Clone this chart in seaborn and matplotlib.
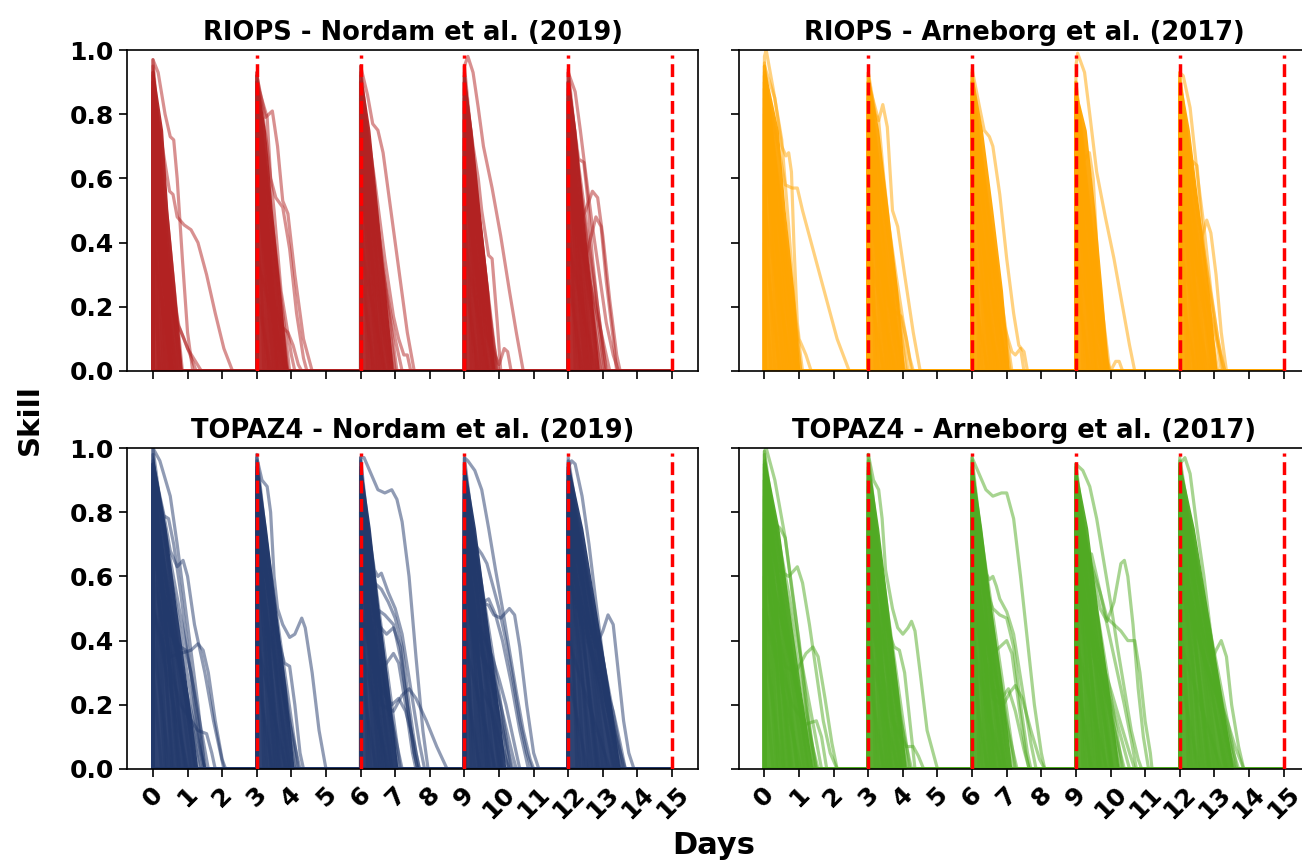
import numpy as np
import pandas as pd
import matplotlib
matplotlib.use("Agg")
import matplotlib.pyplot as plt
import seaborn as sns

# ---------------- data ----------------
DAY_TICKS = list(range(0, 16))
WINDOW_STARTS = [0, 3, 6, 9, 12]
RESTART_LINES = [3, 6, 9, 12, 15]
SKILL_TICKS = [0.0, 0.2, 0.4, 0.6, 0.8, 1.0]
PANEL_TITLES = ["RIOPS - Nordam et al. (2019)", "RIOPS - Arneborg et al. (2017)",
                "TOPAZ4 - Nordam et al. (2019)", "TOPAZ4 - Arneborg et al. (2017)"]
PANEL_COLORS = ["#B22222", "#FFA500", "#22396B", "#50AA23"]

# Saturated core where trajectories overlap: top skill at window start and
# days after the window start at which the core edge reaches skill 0, 0.25, 0.5, 0.75
CORE_LEVELS = [0.0, 0.25, 0.5, 0.75]
riops_nordam_core_top = [0.95, 0.92, 0.94, 0.93, 0.93]
riops_nordam_core_width = [[0.85, 0.65, 0.43, 0.28], [0.90, 0.68, 0.45, 0.25], [0.95, 0.72, 0.50, 0.27],
                           [0.87, 0.70, 0.45, 0.22], [0.90, 0.67, 0.43, 0.22]]
riops_arneborg_core_top = [0.95, 0.93, 0.93, 0.88, 0.92]
riops_arneborg_core_width = [[1.02, 0.85, 0.60, 0.40], [1.05, 0.85, 0.58, 0.30], [1.08, 0.88, 0.60, 0.30],
                             [0.95, 0.76, 0.55, 0.30], [1.08, 0.85, 0.56, 0.28]]
topaz_nordam_core_top = [0.98, 0.97, 0.96, 0.96, 0.96]
topaz_nordam_core_width = [[1.30, 1.00, 0.68, 0.38], [1.08, 0.85, 0.56, 0.28], [1.08, 0.82, 0.53, 0.28],
                           [1.20, 0.92, 0.62, 0.32], [1.50, 1.18, 0.80, 0.42]]
topaz_arneborg_core_top = [0.98, 0.97, 0.96, 0.94, 0.96]
topaz_arneborg_core_width = [[1.40, 1.05, 0.72, 0.42], [1.10, 0.86, 0.58, 0.30], [1.15, 0.88, 0.56, 0.28],
                             [1.25, 0.95, 0.63, 0.34], [1.55, 1.18, 0.80, 0.42]]

# Bundle of fast-decaying trajectories: initial skill and days until skill hits 0, per window
riops_nordam_peaks = [
    [0.97, 0.95, 0.93, 0.92, 0.90, 0.88, 0.85, 0.82, 0.78, 0.72, 0.65, 0.58, 0.50, 0.40, 0.30, 0.93, 0.90, 0.87],
    [0.93, 0.92, 0.90, 0.88, 0.85, 0.82, 0.80, 0.75, 0.70, 0.62, 0.55, 0.45, 0.35, 0.25, 0.90, 0.87, 0.80, 0.60],
    [0.95, 0.93, 0.92, 0.90, 0.88, 0.85, 0.82, 0.78, 0.72, 0.65, 0.58, 0.50, 0.40, 0.30, 0.90, 0.86, 0.80, 0.70],
    [0.95, 0.93, 0.92, 0.90, 0.88, 0.85, 0.82, 0.78, 0.72, 0.65, 0.58, 0.50, 0.40, 0.30, 0.90, 0.86, 0.80, 0.70],
    [0.94, 0.93, 0.90, 0.88, 0.86, 0.83, 0.80, 0.75, 0.70, 0.64, 0.58, 0.50, 0.40, 0.30, 0.90, 0.85, 0.78, 0.66],
]
riops_nordam_ends = [
    [0.70, 0.55, 0.45, 0.62, 0.35, 0.50, 0.78, 0.30, 0.60, 0.40, 0.82, 0.25, 0.70, 0.55, 0.20, 0.85, 0.15, 0.50],
    [0.80, 0.65, 0.55, 0.90, 0.45, 0.70, 0.35, 0.85, 0.60, 0.50, 0.75, 0.30, 0.90, 0.40, 0.20, 0.95, 0.60, 0.80],
    [0.90, 0.70, 0.55, 1.00, 0.45, 0.80, 0.35, 0.95, 0.60, 0.50, 0.85, 0.30, 0.70, 0.40, 0.20, 1.05, 0.65, 0.90],
    [0.85, 0.70, 0.55, 0.92, 0.45, 0.80, 0.35, 0.90, 0.60, 0.50, 0.85, 0.30, 0.70, 0.40, 0.20, 0.95, 0.65, 0.88],
    [0.90, 0.70, 0.55, 1.10, 0.45, 0.85, 0.35, 1.00, 0.60, 0.50, 1.20, 0.30, 0.80, 0.40, 0.20, 1.05, 0.65, 0.95],
]
# Slower trajectories traced individually: (days, skill)
riops_nordam_curves = [
    ([0, 0.15, 0.35, 0.5, 0.6, 0.7, 0.85, 1.0, 1.15], [0.97, 0.93, 0.80, 0.73, 0.72, 0.60, 0.35, 0.12, 0.0]),
    ([0, 0.3, 0.48, 0.58, 0.7, 0.9, 1.1, 1.3, 1.55, 1.8, 2.05, 2.3], [0.88, 0.68, 0.56, 0.55, 0.48, 0.455, 0.44, 0.40, 0.30, 0.18, 0.07, 0.0]),
    ([0, 0.4, 0.75, 1.0, 1.4], [0.80, 0.35, 0.14, 0.07, 0.0]),
    ([0, 0.5, 0.9, 1.25], [0.60, 0.20, 0.10, 0.0]),
    ([3, 3.25, 3.45, 3.6, 3.75, 3.9, 4.1, 4.35, 4.6], [0.92, 0.79, 0.81, 0.70, 0.53, 0.49, 0.30, 0.10, 0.0]),
    ([3, 3.3, 3.4, 3.55, 3.75, 3.95, 4.15, 4.35, 4.45], [0.90, 0.79, 0.60, 0.54, 0.51, 0.38, 0.18, 0.04, 0.0]),
    ([3, 3.4, 3.7, 3.9, 4.05, 4.2, 4.3], [0.60, 0.25, 0.14, 0.12, 0.08, 0.02, 0.0]),
    ([3, 3.3, 3.5, 3.7, 3.85, 4.0, 4.1], [0.93, 0.70, 0.50, 0.25, 0.15, 0.05, 0.0]),
    ([6, 6.2, 6.35, 6.5, 6.65, 6.9, 7.15, 7.35, 7.55], [0.95, 0.86, 0.77, 0.75, 0.68, 0.48, 0.28, 0.12, 0.0]),
    ([6, 6.4, 6.7, 6.95, 7.1, 7.25, 7.35, 7.45], [0.90, 0.60, 0.35, 0.17, 0.10, 0.05, 0.05, 0.0]),
    ([6, 6.5, 6.8, 7.0, 7.2], [0.85, 0.40, 0.22, 0.10, 0.0]),
    ([9, 9.1, 9.25, 9.4, 9.55, 9.8, 10.05, 10.3, 10.5, 10.7], [0.95, 0.98, 0.93, 0.82, 0.70, 0.57, 0.42, 0.25, 0.12, 0.0]),
    ([9, 9.25, 9.4, 9.5, 9.7, 9.8, 9.95, 10.05], [0.90, 0.70, 0.60, 0.50, 0.36, 0.35, 0.15, 0.0]),
    ([9, 9.6, 10.0, 10.15, 10.25, 10.35], [0.60, 0.12, 0.02, 0.07, 0.06, 0.0]),
    ([9, 9.3, 9.5, 9.7, 9.85, 10.0], [0.92, 0.60, 0.40, 0.20, 0.08, 0.0]),
    ([12, 12.2, 12.35, 12.5, 12.7, 12.9, 13.1, 13.3, 13.45], [0.93, 0.87, 0.75, 0.62, 0.45, 0.30, 0.15, 0.05, 0.0]),
    ([12, 12.3, 12.5, 12.7, 12.85, 13.0, 13.2, 13.4, 13.5], [0.70, 0.45, 0.50, 0.56, 0.54, 0.42, 0.22, 0.05, 0.0]),
    ([12, 12.3, 12.45, 12.55, 12.7, 12.85, 13.0, 13.1], [0.90, 0.66, 0.65, 0.55, 0.35, 0.20, 0.07, 0.0]),
    ([12, 12.5, 12.8, 12.95, 13.1, 13.3, 13.4], [0.60, 0.35, 0.48, 0.45, 0.28, 0.10, 0.0]),
]

riops_arneborg_peaks = [
    [0.96, 0.95, 0.93, 0.92, 0.90, 0.88, 0.85, 0.82, 0.78, 0.72, 0.65, 0.58, 0.50, 0.40, 0.30, 0.92, 0.88, 0.80],
    [0.93, 0.92, 0.90, 0.88, 0.86, 0.83, 0.80, 0.76, 0.70, 0.63, 0.55, 0.47, 0.38, 0.28, 0.90, 0.85, 0.78, 0.65],
    [0.93, 0.92, 0.90, 0.88, 0.86, 0.83, 0.80, 0.76, 0.70, 0.63, 0.55, 0.47, 0.38, 0.28, 0.90, 0.85, 0.78, 0.65],
    [0.90, 0.88, 0.87, 0.85, 0.83, 0.80, 0.77, 0.73, 0.68, 0.60, 0.52, 0.45, 0.38, 0.28, 0.86, 0.82, 0.75, 0.62],
    [0.93, 0.92, 0.90, 0.88, 0.86, 0.83, 0.80, 0.76, 0.70, 0.63, 0.55, 0.47, 0.38, 0.28, 0.90, 0.85, 0.78, 0.65],
]
riops_arneborg_ends = [
    [0.95, 0.75, 0.60, 1.05, 0.50, 0.85, 0.40, 1.00, 0.70, 0.55, 0.90, 0.30, 0.80, 0.45, 0.20, 1.10, 0.65, 0.95],
    [0.95, 0.75, 0.60, 1.10, 0.50, 0.85, 0.40, 1.00, 0.70, 0.55, 1.05, 0.30, 0.80, 0.45, 0.20, 1.15, 0.65, 0.90],
    [0.95, 0.75, 0.60, 1.10, 0.50, 0.85, 0.40, 1.00, 0.70, 0.55, 1.05, 0.30, 0.80, 0.45, 0.20, 1.15, 0.65, 0.90],
    [0.85, 0.70, 0.55, 0.98, 0.45, 0.80, 0.35, 0.90, 0.60, 0.50, 0.95, 0.30, 0.75, 0.40, 0.20, 0.95, 0.60, 0.85],
    [0.95, 0.75, 0.60, 1.20, 0.50, 0.90, 0.40, 1.10, 0.70, 0.55, 1.30, 0.30, 0.85, 0.45, 0.20, 1.25, 0.65, 1.00],
]
riops_arneborg_curves = [
    ([0, 0.05, 0.25, 0.5, 0.7, 0.9, 1.05], [0.98, 1.00, 0.88, 0.72, 0.45, 0.15, 0.0]),
    ([0, 0.4, 0.6, 0.8, 0.95, 1.1, 1.35, 1.6, 1.85, 2.1, 2.45], [0.90, 0.70, 0.58, 0.57, 0.57, 0.50, 0.40, 0.30, 0.20, 0.10, 0.0]),
    ([0, 0.3, 0.5, 0.62, 0.7, 0.78, 0.85, 0.95, 1.0, 1.2, 1.35], [0.95, 0.85, 0.70, 0.67, 0.68, 0.62, 0.40, 0.15, 0.10, 0.05, 0.0]),
    ([3, 3.2, 3.3, 3.42, 3.55, 3.7, 3.85, 4.05, 4.3, 4.5], [0.93, 0.80, 0.78, 0.83, 0.76, 0.50, 0.45, 0.30, 0.12, 0.0]),
    ([3, 3.3, 3.45, 3.6, 3.8, 4.0, 4.2, 4.3], [0.90, 0.78, 0.60, 0.45, 0.30, 0.16, 0.04, 0.0]),
    ([3, 3.6, 3.95, 4.1, 4.25], [0.50, 0.20, 0.17, 0.10, 0.0]),
    ([6, 6.2, 6.35, 6.5, 6.6, 6.8, 7.0, 7.2, 7.35, 7.5, 7.6], [0.94, 0.83, 0.75, 0.73, 0.70, 0.55, 0.35, 0.18, 0.08, 0.06, 0.0]),
    ([6, 6.5, 6.9, 7.15, 7.25, 7.4, 7.5], [0.80, 0.40, 0.15, 0.06, 0.05, 0.07, 0.0]),
    ([9, 9.05, 9.25, 9.4, 9.6, 9.85, 10.1, 10.35, 10.55, 10.7], [0.95, 0.99, 0.93, 0.80, 0.62, 0.48, 0.35, 0.20, 0.08, 0.0]),
    ([9, 9.25, 9.39, 9.5, 9.65, 9.8, 9.9], [0.90, 0.66, 0.68, 0.60, 0.30, 0.10, 0.0]),
    ([9, 9.6, 10.0, 10.15, 10.25, 10.35], [0.55, 0.12, 0.0, 0.03, 0.03, 0.0]),
    ([12, 12.1, 12.3, 12.5, 12.7, 12.9, 13.1, 13.3], [0.93, 0.92, 0.82, 0.62, 0.45, 0.25, 0.10, 0.0]),
    ([12, 12.5, 12.65, 12.78, 12.9, 13.05, 13.2, 13.35], [0.70, 0.30, 0.42, 0.47, 0.43, 0.30, 0.12, 0.0]),
    ([12, 12.3, 12.5, 12.6, 12.75, 12.9, 13.05], [0.88, 0.66, 0.64, 0.50, 0.30, 0.12, 0.0]),
]

topaz_nordam_peaks = [
    [1.00, 0.98, 0.96, 0.94, 0.92, 0.90, 0.87, 0.84, 0.80, 0.75, 0.68, 0.60, 0.50, 0.40, 0.30, 0.95, 0.90, 0.85, 0.78, 0.70],
    [0.98, 0.96, 0.94, 0.92, 0.90, 0.87, 0.84, 0.80, 0.75, 0.68, 0.60, 0.50, 0.40, 0.30, 0.93, 0.88, 0.80, 0.70],
    [0.97, 0.96, 0.94, 0.92, 0.90, 0.87, 0.84, 0.80, 0.75, 0.68, 0.60, 0.50, 0.40, 0.30, 0.93, 0.88, 0.80, 0.70],
    [0.97, 0.95, 0.93, 0.91, 0.89, 0.86, 0.83, 0.79, 0.74, 0.67, 0.60, 0.50, 0.40, 0.30, 0.92, 0.87, 0.80, 0.70],
    [0.97, 0.96, 0.94, 0.92, 0.90, 0.87, 0.84, 0.80, 0.75, 0.68, 0.60, 0.50, 0.40, 0.30, 0.93, 0.88, 0.82, 0.72, 0.95, 0.90],
]
topaz_nordam_ends = [
    [1.20, 0.90, 0.70, 1.45, 0.55, 1.10, 0.40, 1.35, 0.80, 0.60, 1.50, 0.35, 1.00, 0.50, 0.25, 1.60, 0.75, 1.25, 0.95, 1.40],
    [1.00, 0.80, 0.60, 1.20, 0.50, 0.90, 0.40, 1.10, 0.70, 0.55, 1.25, 0.30, 0.85, 0.45, 0.20, 1.15, 0.65, 0.95],
    [0.95, 0.75, 0.60, 1.15, 0.50, 0.85, 0.40, 1.05, 0.70, 0.55, 1.20, 0.30, 0.80, 0.45, 0.20, 1.10, 0.65, 0.90],
    [1.10, 0.85, 0.65, 1.35, 0.50, 1.00, 0.40, 1.25, 0.75, 0.60, 1.40, 0.30, 0.90, 0.45, 0.20, 1.30, 0.70, 1.05],
    [1.40, 1.10, 0.80, 1.60, 0.60, 1.30, 0.45, 1.50, 0.90, 0.70, 1.65, 0.35, 1.20, 0.55, 0.25, 1.55, 0.85, 1.35, 1.00, 1.45],
]
topaz_nordam_curves = [
    ([0, 0.2, 0.5, 0.7, 1.0, 1.3, 1.5], [1.00, 0.96, 0.85, 0.70, 0.45, 0.20, 0.0]),
    ([0, 0.3, 0.5, 0.7, 0.87, 1.0, 1.2, 1.5, 1.75, 2.05], [0.95, 0.80, 0.68, 0.63, 0.65, 0.60, 0.45, 0.30, 0.15, 0.0]),
    ([0, 0.3, 0.45, 0.6, 0.8, 1.0, 1.2, 1.4, 1.5], [0.95, 0.79, 0.78, 0.70, 0.55, 0.38, 0.20, 0.05, 0.0]),
    ([0, 0.5, 0.8, 1.1, 1.3, 1.45, 1.6, 1.8, 2.0, 2.1], [0.60, 0.35, 0.36, 0.37, 0.39, 0.37, 0.30, 0.15, 0.03, 0.0]),
    ([0, 0.5, 0.8, 0.95, 1.1, 1.3, 1.5], [0.80, 0.42, 0.38, 0.37, 0.30, 0.15, 0.0]),
    ([0, 0.8, 1.3, 1.55, 1.7, 1.8], [0.50, 0.20, 0.12, 0.11, 0.05, 0.0]),
    ([3, 3.15, 3.3, 3.4, 3.5, 3.6, 3.75, 3.95, 4.1, 4.3, 4.4, 4.6, 4.8, 5.0], [0.97, 0.90, 0.88, 0.80, 0.60, 0.50, 0.45, 0.41, 0.42, 0.47, 0.44, 0.30, 0.12, 0.0]),
    ([3, 3.5, 3.8, 3.95, 4.1, 4.25, 4.35], [0.80, 0.45, 0.33, 0.32, 0.20, 0.05, 0.0]),
    ([6, 6.1, 6.3, 6.5, 6.7, 6.9, 7.05, 7.2, 7.4, 7.6, 7.8, 7.95], [0.97, 0.97, 0.92, 0.87, 0.86, 0.87, 0.84, 0.77, 0.60, 0.35, 0.12, 0.0]),
    ([6, 6.4, 6.5, 6.6, 6.7, 6.8, 7.0, 7.2, 7.45, 7.7, 7.85], [0.90, 0.62, 0.60, 0.61, 0.58, 0.55, 0.50, 0.42, 0.25, 0.08, 0.0]),
    ([6, 6.4, 6.6, 6.8, 7.0, 7.2, 7.4, 7.6, 7.7], [0.85, 0.58, 0.56, 0.52, 0.47, 0.38, 0.20, 0.05, 0.0]),
    ([6, 6.45, 6.7, 6.95, 7.15, 7.35, 7.55, 7.65], [0.80, 0.50, 0.48, 0.45, 0.35, 0.20, 0.05, 0.0]),
    ([6, 6.5, 6.75, 6.95, 7.15, 7.35, 7.55, 7.65], [0.70, 0.45, 0.42, 0.44, 0.38, 0.20, 0.05, 0.0]),
    ([6, 6.5, 6.75, 6.95, 7.1, 7.3, 7.5, 7.6], [0.60, 0.30, 0.33, 0.36, 0.33, 0.20, 0.05, 0.0]),
    ([6, 6.6, 6.95, 7.2, 7.4, 7.6, 7.9, 8.2, 8.5], [0.50, 0.20, 0.18, 0.23, 0.25, 0.22, 0.15, 0.07, 0.0]),
    ([6, 6.6, 6.9, 7.1, 7.3, 7.55, 7.7], [0.50, 0.25, 0.20, 0.22, 0.18, 0.08, 0.0]),
    ([9, 9.1, 9.3, 9.5, 9.7, 9.9, 10.1, 10.3, 10.5, 10.7, 10.9, 11.0], [0.97, 0.96, 0.93, 0.87, 0.75, 0.62, 0.50, 0.37, 0.24, 0.12, 0.03, 0.0]),
    ([9, 9.3, 9.5, 9.65, 9.8, 10.0, 10.2, 10.4, 10.6, 10.8, 10.95], [0.90, 0.70, 0.67, 0.64, 0.58, 0.50, 0.40, 0.28, 0.15, 0.05, 0.0]),
    ([9, 9.3, 9.5, 9.7, 9.85, 10.05, 10.3, 10.45, 10.6, 10.8, 11.0, 11.15], [0.85, 0.60, 0.52, 0.51, 0.48, 0.47, 0.50, 0.48, 0.38, 0.20, 0.05, 0.0]),
    ([9, 9.4, 9.55, 9.7, 9.9, 10.1, 10.35, 10.6, 10.85], [0.88, 0.60, 0.52, 0.53, 0.48, 0.40, 0.27, 0.12, 0.0]),
    ([9, 9.4, 9.6, 9.8, 10.0, 10.2, 10.4, 10.6], [0.80, 0.45, 0.40, 0.35, 0.28, 0.20, 0.10, 0.0]),
    ([9, 9.4, 9.6, 9.8, 10.0, 10.2, 10.4, 10.5], [0.70, 0.38, 0.33, 0.30, 0.22, 0.13, 0.04, 0.0]),
    ([9, 9.5, 9.8, 10.0, 10.2, 10.3], [0.60, 0.25, 0.18, 0.10, 0.03, 0.0]),
    ([12, 12.1, 12.2, 12.4, 12.6, 12.8, 13.0, 13.2, 13.4, 13.55], [0.94, 0.96, 0.95, 0.85, 0.70, 0.52, 0.35, 0.20, 0.08, 0.0]),
    ([12, 12.5, 12.8, 13.0, 13.15, 13.3, 13.45, 13.6, 13.75, 13.9], [0.80, 0.50, 0.38, 0.43, 0.48, 0.45, 0.30, 0.15, 0.05, 0.0]),
    ([12, 12.6, 12.9, 13.1, 13.3, 13.5, 13.65], [0.70, 0.40, 0.30, 0.25, 0.18, 0.08, 0.0]),
]

topaz_arneborg_peaks = [
    [0.99, 0.98, 0.96, 0.94, 0.92, 0.90, 0.87, 0.84, 0.80, 0.75, 0.68, 0.60, 0.50, 0.40, 0.30, 0.95, 0.90, 0.85, 0.78, 0.70],
    [0.98, 0.96, 0.94, 0.92, 0.90, 0.87, 0.84, 0.80, 0.75, 0.68, 0.60, 0.50, 0.40, 0.30, 0.93, 0.88, 0.80, 0.70],
    [0.97, 0.96, 0.94, 0.92, 0.90, 0.87, 0.84, 0.80, 0.75, 0.68, 0.60, 0.50, 0.40, 0.30, 0.93, 0.88, 0.80, 0.70],
    [0.95, 0.94, 0.92, 0.90, 0.88, 0.85, 0.82, 0.78, 0.73, 0.67, 0.60, 0.50, 0.40, 0.30, 0.91, 0.86, 0.80, 0.70],
    [0.97, 0.96, 0.94, 0.92, 0.90, 0.87, 0.84, 0.80, 0.75, 0.68, 0.60, 0.50, 0.40, 0.30, 0.93, 0.88, 0.82, 0.72, 0.95, 0.90],
]
topaz_arneborg_ends = [
    [1.25, 0.95, 0.70, 1.50, 0.55, 1.15, 0.40, 1.40, 0.80, 0.60, 1.55, 0.35, 1.05, 0.50, 0.25, 1.65, 0.75, 1.30, 0.95, 1.45],
    [1.00, 0.80, 0.60, 1.20, 0.50, 0.90, 0.40, 1.10, 0.70, 0.55, 1.25, 0.30, 0.85, 0.45, 0.20, 1.15, 0.65, 0.95],
    [1.00, 0.80, 0.60, 1.25, 0.50, 0.90, 0.40, 1.10, 0.70, 0.55, 1.30, 0.30, 0.85, 0.45, 0.20, 1.20, 0.65, 0.95],
    [1.05, 0.85, 0.65, 1.35, 0.50, 1.00, 0.40, 1.25, 0.75, 0.60, 1.40, 0.30, 0.90, 0.45, 0.20, 1.30, 0.70, 1.05],
    [1.40, 1.10, 0.80, 1.65, 0.60, 1.30, 0.45, 1.55, 0.90, 0.70, 1.70, 0.35, 1.20, 0.55, 0.25, 1.60, 0.85, 1.35, 1.00, 1.50],
]
topaz_arneborg_curves = [
    ([0, 0.05, 0.3, 0.6, 0.9, 1.2, 1.45], [0.99, 1.00, 0.90, 0.72, 0.48, 0.20, 0.0]),
    ([0, 0.25, 0.45, 0.6, 0.8, 1.0, 1.2, 1.4, 1.5], [0.95, 0.77, 0.75, 0.72, 0.55, 0.40, 0.22, 0.06, 0.0]),
    ([0, 0.4, 0.7, 0.95, 1.1, 1.3, 1.5, 1.7, 1.9, 2.1], [0.90, 0.62, 0.60, 0.63, 0.58, 0.45, 0.30, 0.15, 0.05, 0.0]),
    ([0, 0.6, 0.9, 1.2, 1.4, 1.55, 1.75, 1.95, 2.1], [0.60, 0.32, 0.30, 0.36, 0.38, 0.35, 0.22, 0.08, 0.0]),
    ([0, 0.8, 1.2, 1.5, 1.65, 1.8], [0.50, 0.20, 0.14, 0.15, 0.10, 0.0]),
    ([3, 3.15, 3.3, 3.4, 3.5, 3.7, 3.85, 4.0, 4.15, 4.25, 4.35, 4.5, 4.7, 5.0], [0.98, 0.90, 0.87, 0.78, 0.62, 0.50, 0.44, 0.42, 0.44, 0.46, 0.43, 0.30, 0.12, 0.0]),
    ([3, 3.5, 3.75, 3.9, 4.05, 4.2, 4.35], [0.80, 0.45, 0.38, 0.37, 0.30, 0.15, 0.0]),
    ([3, 3.7, 4.1, 4.3, 4.45, 4.6], [0.50, 0.15, 0.07, 0.07, 0.04, 0.0]),
    ([6, 6.2, 6.4, 6.6, 6.85, 7.0, 7.2, 7.4, 7.6, 7.8, 8.0, 8.1], [0.97, 0.92, 0.87, 0.85, 0.86, 0.86, 0.78, 0.60, 0.40, 0.20, 0.05, 0.0]),
    ([6, 6.4, 6.5, 6.6, 6.7, 6.8, 7.0, 7.2, 7.45, 7.7, 7.85], [0.90, 0.61, 0.59, 0.60, 0.57, 0.53, 0.49, 0.42, 0.25, 0.08, 0.0]),
    ([6, 6.4, 6.6, 6.8, 7.0, 7.2, 7.4, 7.6, 7.7], [0.85, 0.56, 0.50, 0.48, 0.47, 0.38, 0.20, 0.05, 0.0]),
    ([6, 6.5, 6.8, 7.0, 7.15, 7.35, 7.55, 7.65], [0.70, 0.35, 0.38, 0.40, 0.36, 0.20, 0.05, 0.0]),
    ([6, 6.6, 6.9, 7.1, 7.25, 7.45, 7.7, 7.95, 8.1], [0.55, 0.22, 0.20, 0.24, 0.26, 0.22, 0.12, 0.03, 0.0]),
    ([6, 6.6, 6.85, 7.05, 7.25, 7.5, 7.65], [0.50, 0.25, 0.22, 0.25, 0.18, 0.06, 0.0]),
    ([9, 9.2, 9.4, 9.6, 9.8, 10.0, 10.2, 10.4, 10.6, 10.8, 10.9], [0.95, 0.93, 0.88, 0.78, 0.65, 0.52, 0.38, 0.25, 0.12, 0.03, 0.0]),
    ([9, 9.3, 9.5, 9.7, 9.9, 10.1, 10.3, 10.4, 10.5, 10.65, 10.8, 10.95, 11.1], [0.88, 0.70, 0.60, 0.50, 0.46, 0.52, 0.64, 0.65, 0.60, 0.45, 0.25, 0.10, 0.0]),
    ([9, 9.3, 9.45, 9.6, 9.8, 10.0, 10.2, 10.4, 10.6, 10.75], [0.90, 0.66, 0.67, 0.60, 0.50, 0.40, 0.30, 0.20, 0.09, 0.0]),
    ([9, 9.4, 9.7, 9.9, 10.1, 10.3, 10.5, 10.7, 10.85, 11.0, 11.15, 11.2], [0.85, 0.65, 0.55, 0.47, 0.45, 0.43, 0.40, 0.40, 0.30, 0.15, 0.05, 0.0]),
    ([9, 9.4, 9.7, 10.0, 10.3, 10.55, 10.7], [0.75, 0.45, 0.35, 0.25, 0.14, 0.05, 0.0]),
    ([9, 9.5, 9.8, 10.1, 10.4, 10.55], [0.70, 0.35, 0.28, 0.18, 0.06, 0.0]),
    ([12, 12.15, 12.3, 12.5, 12.7, 12.9, 13.1, 13.3, 13.5, 13.6], [0.95, 0.97, 0.92, 0.75, 0.60, 0.42, 0.25, 0.12, 0.03, 0.0]),
    ([12, 12.6, 12.9, 13.05, 13.2, 13.35, 13.5, 13.7, 13.85], [0.80, 0.45, 0.33, 0.37, 0.40, 0.35, 0.20, 0.07, 0.0]),
    ([12, 12.6, 13.0, 13.2, 13.4, 13.6, 13.85], [0.70, 0.38, 0.25, 0.20, 0.14, 0.07, 0.0]),
]

PANEL_CORE_TOP = [riops_nordam_core_top, riops_arneborg_core_top, topaz_nordam_core_top, topaz_arneborg_core_top]
PANEL_CORE_WIDTH = [riops_nordam_core_width, riops_arneborg_core_width, topaz_nordam_core_width, topaz_arneborg_core_width]
PANEL_PEAKS = [riops_nordam_peaks, riops_arneborg_peaks, topaz_nordam_peaks, topaz_arneborg_peaks]
PANEL_ENDS = [riops_nordam_ends, riops_arneborg_ends, topaz_nordam_ends, topaz_arneborg_ends]
PANEL_CURVES = [riops_nordam_curves, riops_arneborg_curves, topaz_nordam_curves, topaz_arneborg_curves]


def build_frame(peaks, ends, curves):
    """Each trajectory is zero outside its forecast window (as in the source data)."""
    rows = []
    cid = 0
    first, last = DAY_TICKS[0], DAY_TICKS[-1]

    def add(days, skill):
        nonlocal cid
        for d, s in zip(days, skill):
            rows.append((cid, d, s))
        cid += 1

    for w, t0 in enumerate(WINDOW_STARTS):
        for p, e in zip(peaks[w], ends[w]):
            add([first, t0, t0, t0 + e, last], [0.0, 0.0, p, 0.0, 0.0])
    for days, skill in curves:
        t0 = max(w for w in WINDOW_STARTS if w <= days[0])
        add([first, t0] + list(days) + [last], [0.0, 0.0] + list(skill) + [0.0])
    return pd.DataFrame(rows, columns=["curve", "day", "skill"])


# ---------------- plot ----------------
sns.set_style("ticks")
plt.rcParams["font.family"] = ["DejaVu Sans"]
plt.rcParams["font.weight"] = "bold"
plt.rcParams["axes.titleweight"] = "bold"
plt.rcParams["axes.labelweight"] = "bold"
for key in ["text.color", "axes.labelcolor", "xtick.color", "ytick.color", "axes.edgecolor"]:
    plt.rcParams[key] = "black"

W, H = 1302, 861
fig = plt.figure(figsize=(W / 100, H / 100), dpi=100)
axw = 571 / W
axh = 321 / H
lefts = [127 / W, 738.5 / W]
bottoms = [1 - 371 / H, 1 - 769 / H]

for i in range(4):
    r, c = divmod(i, 2)
    ax = fig.add_axes([lefts[c], bottoms[r], axw, axh])
    color = PANEL_COLORS[i]
    # saturated overlap core of each forecast window
    for w, t0 in enumerate(WINDOW_STARTS):
        levels = CORE_LEVELS + [PANEL_CORE_TOP[i][w]]
        edge = [t0 + d for d in PANEL_CORE_WIDTH[i][w]] + [t0]
        ax.fill_betweenx(levels, t0, edge, color=color, alpha=0.95, linewidth=0, zorder=1)
    df = build_frame(PANEL_PEAKS[i], PANEL_ENDS[i], PANEL_CURVES[i])
    sns.lineplot(data=df, x="day", y="skill", units="curve", estimator=None, sort=False,
                 color=color, alpha=0.5, linewidth=2.3, legend=False, ax=ax, zorder=2)
    for x in RESTART_LINES:
        ax.axvline(x, ymin=0, ymax=0.985, color="red", linestyle="--", linewidth=2.5, zorder=5)
    ax.set_xlim(DAY_TICKS[0] - 0.75, DAY_TICKS[-1] + 0.75)
    ax.set_ylim(0, 1)
    ax.set_xticks(DAY_TICKS)
    ax.set_yticks(SKILL_TICKS)
    ax.set_xlabel("")
    ax.set_ylabel("")
    ax.set_title(PANEL_TITLES[i], fontsize=18.5, fontweight="bold", pad=7)
    ax.tick_params(axis="both", length=6, width=1.2, labelsize=18)
    for sp in ax.spines.values():
        sp.set_linewidth(1.2)
    if r == 1:
        ax.set_xticklabels([str(d) for d in DAY_TICKS], rotation=45, fontweight="bold")
    else:
        ax.set_xticklabels([])
    if c == 0:
        ax.set_yticklabels([f"{v:.1f}" for v in SKILL_TICKS], fontweight="bold")
    else:
        ax.set_yticklabels([])

fig.text(30 / W, 1 - 420 / H, "Skill", rotation=90, ha="center", va="center",
         fontsize=21, fontweight="bold")
fig.text(714 / W, 1 - 846 / H, "Days", ha="center", va="center", fontsize=22, fontweight="bold")

fig.savefig("out.png", dpi=100, facecolor="white")
